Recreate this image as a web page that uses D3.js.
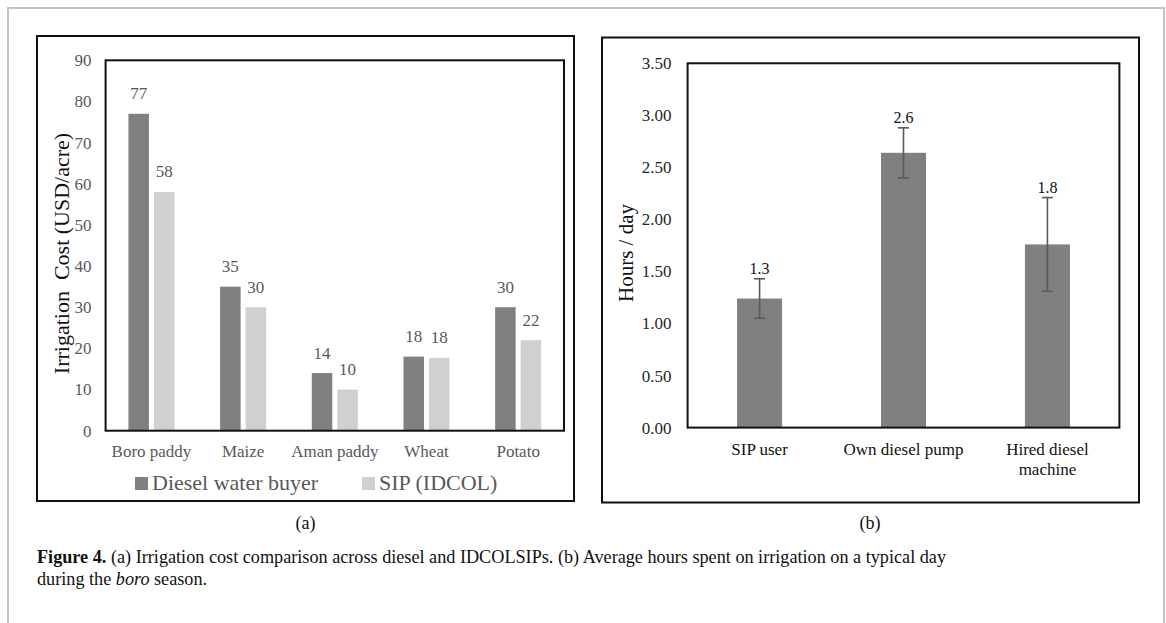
<!DOCTYPE html>
<html>
<head>
<meta charset="utf-8">
<script src="https://cdn.jsdelivr.net/npm/d3@7"></script>
<style>
  html, body { margin: 0; padding: 0; background: #fff; }
  svg { display: block; }
  svg text { font-family: "Liberation Serif", "Times New Roman", serif; }
</style>
</head>
<body>
<svg id="fig" width="1166" height="623"></svg>
<script>
// ---------- Data: panel (a) ----------
const cropCategories = ["Boro paddy", "Maize", "Aman paddy", "Wheat", "Potato"];
const seriesNames = ["Diesel water buyer", "SIP (IDCOL)"];
const dieselCost = [77, 35, 14, 18, 30];
const sipCost = [58, 30, 10, 17.7, 22];
const costTicks = [0, 10, 20, 30, 40, 50, 60, 70, 80, 90];

// ---------- Data: panel (b) ----------
const userCategories = [["SIP user"], ["Own diesel pump"], ["Hired diesel", "machine"]];
const hoursMean = [1.24, 2.64, 1.76];
const hoursError = [0.19, 0.24, 0.45];
const hoursLabels = ["1.3", "2.6", "1.8"];
const hoursTicks = [0, 0.5, 1, 1.5, 2, 2.5, 3, 3.5];

const svg = d3.select("#fig");

// Outer page frame
svg.append("path")
  .attr("d", "M8,623 L8,8 L1164,8 L1164,623")
  .attr("fill", "none").attr("stroke", "#c4c4c4").attr("stroke-width", 2);

// ================= Panel (a) =================
const A = { left: 105.6, right: 564, top: 60.3, bottom: 430.7 };
svg.append("rect").attr("x", 37).attr("y", 36).attr("width", 537).attr("height", 465)
  .attr("fill", "none").attr("stroke", "#111").attr("stroke-width", 2);

const yA = d3.scaleLinear().domain([0, 90]).range([A.bottom, A.top]);
const x0 = d3.scaleBand().domain(cropCategories).range([A.left, A.right])
  .paddingInner(0.498).paddingOuter(0.249);
const x1 = d3.scaleBand().domain(seriesNames).range([0, x0.bandwidth()]).paddingInner(0.196);
const colA = d3.scaleOrdinal().domain(seriesNames).range(["#808080", "#d0d0d0"]);

const gA = svg.append("g");
const rowsA = cropCategories.map((c, i) => ({ cat: c, vals: [
  { s: seriesNames[0], v: dieselCost[i] }, { s: seriesNames[1], v: sipCost[i] } ] }));

const grp = gA.selectAll("g.grp").data(rowsA).join("g")
  .attr("transform", d => `translate(${x0(d.cat)},0)`);
grp.selectAll("rect").data(d => d.vals).join("rect")
  .attr("x", d => x1(d.s)).attr("width", x1.bandwidth())
  .attr("y", d => yA(d.v)).attr("height", d => yA(0) - yA(d.v))
  .attr("fill", d => colA(d.s));
grp.selectAll("text").data(d => d.vals).join("text")
  .attr("x", d => x1(d.s) + x1.bandwidth() / 2)
  .attr("y", d => yA(d.v) - 14.5)
  .attr("text-anchor", "middle").attr("font-size", 17).attr("fill", "#595959")
  .text(d => d3.format(".0f")(d.v));

// axes (a)
const axYA = d3.axisLeft(yA).tickValues(costTicks).tickSize(0).tickPadding(14).tickFormat(d3.format("d"));
const gyA = svg.append("g").attr("transform", `translate(${A.left},0)`).call(axYA);
gyA.select(".domain").remove();
gyA.selectAll("text").attr("font-size", 17).attr("fill", "#595959");

const axXA = d3.axisBottom(x0).tickSize(0).tickPadding(14);
const gxA = svg.append("g").attr("transform", `translate(0,${A.bottom})`).call(axXA);
gxA.select(".domain").remove();
gxA.selectAll("text").attr("font-size", 17).attr("fill", "#595959");

svg.append("rect").attr("x", A.left).attr("y", A.top)
  .attr("width", A.right - A.left).attr("height", A.bottom - A.top)
  .attr("fill", "none").attr("stroke", "#111").attr("stroke-width", 2);

svg.append("text")
  .attr("transform", `translate(69,${(A.top + A.bottom) / 2 + 8}) rotate(-90)`)
  .attr("text-anchor", "middle").attr("font-size", 22).attr("fill", "#111")
  .style("white-space", "pre")
  .text("Irrigation  Cost (USD/acre)");

// legend (a)
const legX = [135, 362];
const leg = svg.append("g");
seriesNames.forEach((s, i) => {
  leg.append("rect").attr("x", legX[i]).attr("y", 477).attr("width", 13).attr("height", 13)
    .attr("fill", colA(s));
  leg.append("text").attr("x", legX[i] + 17).attr("y", 490)
    .attr("font-size", 22).attr("fill", "#595959").text(s);
});

// ================= Panel (b) =================
const B = { left: 687.6, right: 1119.4, top: 63.3, bottom: 427.6 };
svg.append("rect").attr("x", 602).attr("y", 37.5).attr("width", 537).attr("height", 465)
  .attr("fill", "none").attr("stroke", "#111").attr("stroke-width", 2);

const yB = d3.scaleLinear().domain([0, 3.5]).range([B.bottom, B.top]);
const keysB = userCategories.map(d => d.join(" "));
const xB = d3.scaleBand().domain(keysB).range([B.left, B.right])
  .paddingInner(0.6873).paddingOuter(0.6873 / 2);

const rowsB = keysB.map((k, i) => ({ k, m: hoursMean[i], e: hoursError[i], lab: hoursLabels[i], lines: userCategories[i] }));
const gB = svg.append("g");
gB.selectAll("rect.bar").data(rowsB).join("rect").attr("class", "bar")
  .attr("x", d => xB(d.k)).attr("width", xB.bandwidth())
  .attr("y", d => yB(d.m)).attr("height", d => yB(0) - yB(d.m))
  .attr("fill", "#808080");

const eb = gB.selectAll("g.eb").data(rowsB).join("g").attr("class", "eb")
  .attr("stroke", "#595959").attr("stroke-width", 1.6);
eb.append("line")
  .attr("x1", d => xB(d.k) + xB.bandwidth() / 2).attr("x2", d => xB(d.k) + xB.bandwidth() / 2)
  .attr("y1", d => yB(d.m + d.e)).attr("y2", d => yB(d.m - d.e));
eb.append("line")
  .attr("x1", d => xB(d.k) + xB.bandwidth() / 2 - 5.5).attr("x2", d => xB(d.k) + xB.bandwidth() / 2 + 5.5)
  .attr("y1", d => yB(d.m + d.e)).attr("y2", d => yB(d.m + d.e));
eb.append("line")
  .attr("x1", d => xB(d.k) + xB.bandwidth() / 2 - 5.5).attr("x2", d => xB(d.k) + xB.bandwidth() / 2 + 5.5)
  .attr("y1", d => yB(d.m - d.e)).attr("y2", d => yB(d.m - d.e));

gB.selectAll("text.lab").data(rowsB).join("text").attr("class", "lab")
  .attr("x", d => xB(d.k) + xB.bandwidth() / 2)
  .attr("y", d => yB(d.m + d.e) - 5)
  .attr("text-anchor", "middle").attr("font-size", 16).attr("fill", "#111")
  .text(d => d.lab);

const axYB = d3.axisLeft(yB).tickValues(hoursTicks).tickSize(0).tickPadding(16).tickFormat(d3.format(".2f"));
const gyB = svg.append("g").attr("transform", `translate(${B.left},0)`).call(axYB);
gyB.select(".domain").remove();
gyB.selectAll("text").attr("font-size", 17).attr("fill", "#262626");

// category labels (b), multi-line
const catB = svg.append("g");
rowsB.forEach(d => {
  const t = catB.append("text")
    .attr("x", xB(d.k) + xB.bandwidth() / 2).attr("y", 455)
    .attr("text-anchor", "middle").attr("font-size", 17).attr("fill", "#111");
  d.lines.forEach((ln, j) => {
    t.append("tspan").attr("x", xB(d.k) + xB.bandwidth() / 2).attr("dy", j === 0 ? 0 : 19.5).text(ln);
  });
});

svg.append("rect").attr("x", B.left).attr("y", B.top)
  .attr("width", B.right - B.left).attr("height", B.bottom - B.top)
  .attr("fill", "none").attr("stroke", "#111").attr("stroke-width", 2);

svg.append("text")
  .attr("transform", `translate(633,253) rotate(-90)`)
  .attr("text-anchor", "middle").attr("font-size", 21).attr("fill", "#111")
  .text("Hours / day");

// sub-labels
svg.append("text").attr("x", 305.5).attr("y", 529).attr("text-anchor", "middle")
  .attr("font-size", 18).attr("fill", "#111").text("(a)");
svg.append("text").attr("x", 870).attr("y", 529).attr("text-anchor", "middle")
  .attr("font-size", 18).attr("fill", "#111").text("(b)");

// caption
const cap1 = svg.append("text").attr("x", 37).attr("y", 563).attr("font-size", 18.2).attr("fill", "#111");
cap1.append("tspan").attr("font-weight", "bold").text("Figure 4.");
cap1.append("tspan").text(" (a) Irrigation cost comparison across diesel and IDCOLSIPs. (b) Average hours spent on irrigation on a typical day");
const cap2 = svg.append("text").attr("x", 37).attr("y", 585).attr("font-size", 18.2).attr("fill", "#111");
cap2.append("tspan").text("during the ");
cap2.append("tspan").attr("font-style", "italic").text("boro");
cap2.append("tspan").text(" season.");
</script>
</body>
</html>
